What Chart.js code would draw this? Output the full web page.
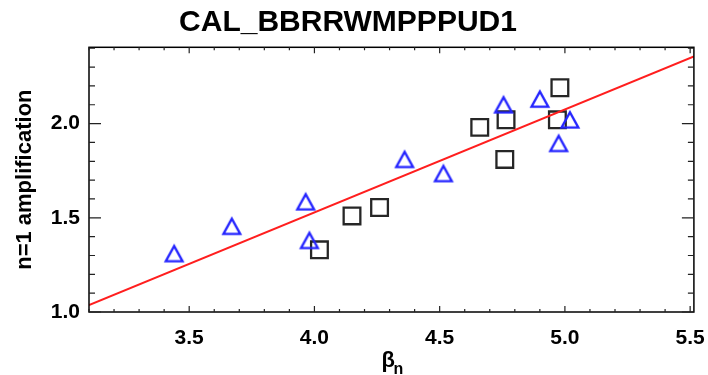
<!DOCTYPE html>
<html>
<head>
<meta charset="utf-8">
<script src="https://cdn.jsdelivr.net/npm/chart.js@4"></script>
<style>
  html, body { margin: 0; padding: 0; background: #fff; }
  #wrap { width: 708px; height: 375px; }
</style>
</head>
<body>
<div id="wrap"><canvas id="myChart" width="708" height="375"></canvas></div>
<script>
// data
var sqX = [4.02, 4.15, 4.26, 4.66, 4.765, 4.76, 4.98, 4.97];
var sqY = [1.33, 1.51, 1.555, 1.98, 2.02, 1.81, 2.19, 2.02];
var triX = [3.44, 3.67, 3.965, 3.98, 4.36, 4.515, 4.755, 4.90, 4.975, 5.02];
var triY = [1.31, 1.455, 1.585, 1.38, 1.81, 1.735, 2.10, 2.13, 1.895, 2.02];
var fitX = [3.1, 5.515];
var fitY = [1.037, 2.356];
var xTicks = [3.5, 4.0, 4.5, 5.0, 5.5];
var yTicks = [1.0, 1.5, 2.0];
var xRange = [3.1, 5.515];
var yRange = [1.0, 2.405];

var FONT = '"Liberation Sans", Arial, Helvetica, sans-serif';

function pts(xs, ys) {
  return xs.map(function(x, i) { return { x: x, y: ys[i] }; });
}

// open triangle, centred on its bounding box like the IDL symbol
function triangleImage() {
  var c = document.createElement('canvas');
  c.width = 26; c.height = 26;
  var g = c.getContext('2d');
  g.strokeStyle = 'rgb(35,35,255)';
  g.lineWidth = 2.3;
  g.lineJoin = 'miter';
  g.beginPath();
  g.moveTo(13 - 8.4, 13 + 7.6);
  g.lineTo(13 + 8.4, 13 + 7.6);
  g.lineTo(13, 13 - 7.6);
  g.closePath();
  g.stroke();
  return c;
}

// inward ticks on all four sides + box
var frame = {
  id: 'frame',
  afterDatasetsDraw: function(chart) {
    var ctx = chart.ctx, a = chart.chartArea;
    var xs = chart.scales.x, ys = chart.scales.y;
    ctx.save();
    ctx.strokeStyle = '#000';
    ctx.lineWidth = 1.5;
    ctx.strokeRect(a.left, a.top, a.right - a.left, a.bottom - a.top);
    ctx.lineWidth = 1.2;
    ctx.strokeStyle = '#222';
    ctx.beginPath();
    for (var i = 31; i <= 55; i++) {
      var v = i / 10;
      var px = xs.getPixelForValue(v);
      var len = (i % 5 === 0) ? 6 : 3;
      ctx.moveTo(px, a.bottom); ctx.lineTo(px, a.bottom - len);
      ctx.moveTo(px, a.top); ctx.lineTo(px, a.top + len);
    }
    for (var j = 10; j <= 24; j++) {
      var py = ys.getPixelForValue(j / 10);
      var l = (j % 5 === 0) ? 12 : 6;
      ctx.moveTo(a.left, py); ctx.lineTo(a.left + l, py);
      ctx.moveTo(a.right, py); ctx.lineTo(a.right - l, py);
    }
    ctx.stroke();
    // x axis title: beta with subscript n
    var cx = (a.left + a.right) / 2;
    ctx.fillStyle = '#000';
    ctx.textBaseline = 'alphabetic';
    ctx.textAlign = 'left';
    ctx.font = 'bold 22px ' + FONT;
    ctx.fillText('\u03B2', cx - 10, 367);
    ctx.font = 'bold 16px ' + FONT;
    ctx.fillText('n', cx + 2, 374);
    ctx.restore();
  }
};

new Chart(document.getElementById('myChart'), {
  type: 'scatter',
  data: {
    datasets: [
      {
        type: 'line',
        data: pts(fitX, fitY),
        borderColor: 'rgb(255,30,30)',
        borderWidth: 2,
        pointRadius: 0,
        fill: false,
        order: 0
      },
      {
        data: pts(sqX, sqY),
        pointStyle: 'rect',
        pointRadius: 11.8,
        borderColor: '#262626',
        backgroundColor: 'rgba(0,0,0,0)',
        borderWidth: 2.3,
        order: 2
      },
      {
        data: pts(triX, triY),
        pointStyle: triangleImage(),
        pointRadius: 10,
        order: 1
      }
    ]
  },
  options: {
    responsive: false,
    animation: false,
    devicePixelRatio: 1,
    layout: { padding: { left: 0, right: 12, top: 0, bottom: 0 } },
    plugins: {
      legend: { display: false },
      tooltip: { enabled: false },
      title: {
        display: true,
        text: 'CAL_BBRRWMPPPUD1',
        color: '#000',
        font: { family: FONT, size: 30, weight: 'bold', lineHeight: 1.2 },
        padding: { top: 5, bottom: 6.3 }
      }
    },
    scales: {
      x: {
        type: 'linear',
        min: xRange[0],
        max: xRange[1],
        afterBuildTicks: function(s) { s.ticks = xTicks.map(function(v) { return { value: v }; }); },
        afterFit: function(s) { s.height = 63; s.paddingLeft = 0; s.paddingRight = 0; },
        grid: { display: false, drawTicks: false },
        border: { display: false },
        ticks: {
          color: '#000',
          padding: 14,
          maxRotation: 0,
          font: { family: FONT, size: 21, weight: 'bold' },
          callback: function(v) { return v.toFixed(1); }
        }
      },
      y: {
        type: 'linear',
        min: yRange[0],
        max: yRange[1],
        afterBuildTicks: function(s) { s.ticks = yTicks.map(function(v) { return { value: v }; }); },
        afterFit: function(s) { s.width = 89; s.paddingTop = 0; s.paddingBottom = 0; },
        grid: { display: false, drawTicks: false },
        border: { display: false },
        ticks: {
          color: '#000',
          padding: 9,
          font: { family: FONT, size: 21, weight: 'bold' },
          callback: function(v) { return v.toFixed(1); }
        },
        title: {
          display: true,
          text: 'n=1 amplification',
          color: '#000',
          padding: { top: 12, bottom: 0 },
          font: { family: FONT, size: 22, weight: 'bold' }
        }
      }
    }
  },
  plugins: [frame]
});
</script>
</body>
</html>
